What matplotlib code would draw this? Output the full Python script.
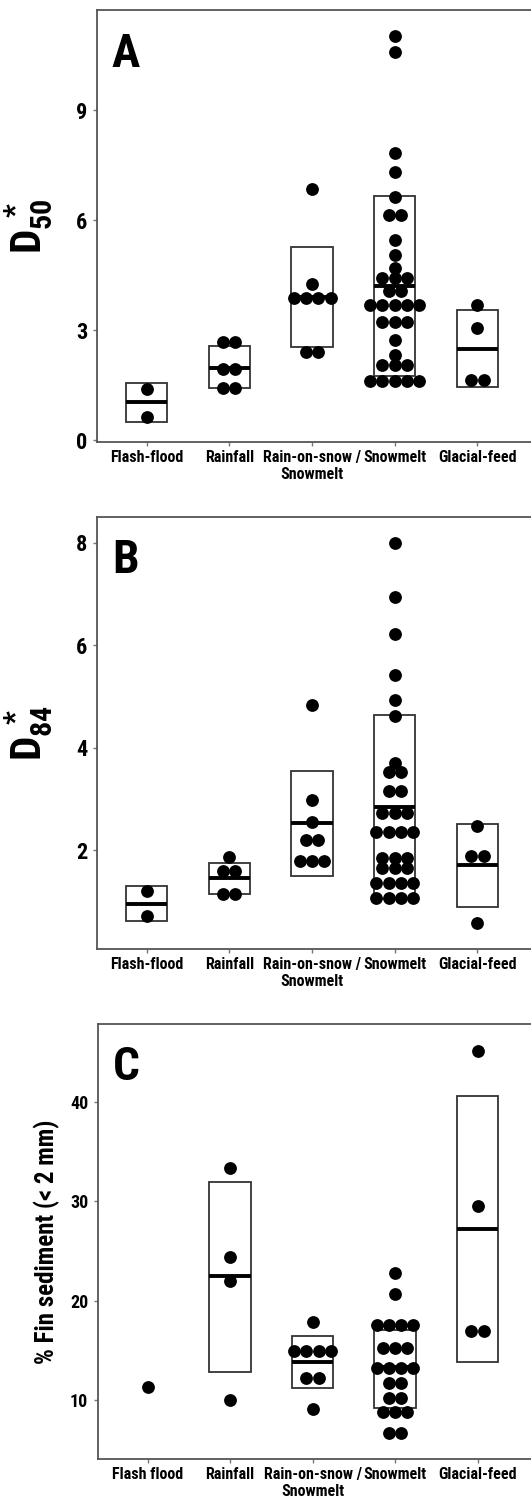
import numpy as np
import matplotlib
matplotlib.use("Agg")
import matplotlib.pyplot as plt
from matplotlib import font_manager
from matplotlib.patches import Rectangle

# narrow bold face close to the Arial Narrow of the original figure
installed = {f.name for f in font_manager.fontManager.ttflist}
base_font = 'DejaVu Sans'
for name in ['Roboto Condensed', 'PT Sans Narrow', 'Encode Sans Condensed', 'Barlow Semi Condensed']:
    if name in installed:
        base_font = name
        break

plt.rcParams['font.family'] = [base_font, 'DejaVu Sans']
plt.rcParams['font.weight'] = 'bold'
plt.rcParams['mathtext.fontset'] = 'custom'
plt.rcParams['mathtext.rm'] = base_font + ':bold'
plt.rcParams['mathtext.it'] = base_font + ':bold'
plt.rcParams['mathtext.bf'] = base_font + ':bold'

# categories / tick labels
labels_ab = ["Flash-flood", "Rainfall", "Rain-on-snow /\nSnowmelt", "Snowmelt", "Glacial-feed"]
labels_c = ["Flash flood", "Rainfall", "Rain-on-snow /\nSnowmelt", "Snowmelt", "Glacial-feed"]

# panel A : D50*
d50_flash = [1.40, 0.645]
d50_rain = [2.68, 2.68, 1.93, 1.93, 1.41, 1.41]
d50_ros = [6.85, 4.26, 3.88, 3.88, 3.88, 3.88, 2.41, 2.41]
d50_snow = [11.03, 10.59, 7.82, 7.31, 6.64, 6.13, 6.13, 5.45, 5.06, 4.69,
            4.42, 4.42, 4.42, 4.08, 4.08, 3.69, 3.69, 3.69, 3.69, 3.69,
            3.21, 3.21, 3.21, 2.72, 2.32, 2.05, 2.05, 2.05,
            1.60, 1.60, 1.60, 1.60, 1.60]
d50_glacial = [3.69, 3.05, 1.63, 1.63]
d50_lo = [0.50, 1.42, 2.54, 1.75, 1.45]
d50_mid = [1.03, 1.96, 3.90, 4.20, 2.48]
d50_hi = [1.56, 2.58, 5.27, 6.67, 3.55]

# panel B : D84*
d84_flash = [1.19, 0.71]
d84_rain = [1.86, 1.59, 1.59, 1.15, 1.15]
d84_ros = [4.84, 2.98, 2.55, 2.20, 2.20, 1.79, 1.79, 1.79]
d84_snow = [8.00, 6.94, 6.21, 5.42, 4.93, 4.62, 3.69, 3.53, 3.53, 3.16, 3.16,
            2.72, 2.72, 2.72, 2.36, 2.36, 2.36, 2.36, 1.84, 1.84, 1.84,
            1.64, 1.64, 1.64, 1.35, 1.35, 1.35, 1.35, 1.06, 1.06, 1.06, 1.06]
d84_glacial = [2.47, 1.88, 1.88, 0.58]
d84_lo = [0.61, 1.15, 1.50, 1.05, 0.89]
d84_mid = [0.95, 1.46, 2.53, 2.84, 1.70]
d84_hi = [1.30, 1.75, 3.54, 4.63, 2.51]

# panel C : % fine sediment
fin_flash = [11.3]
fin_rain = [33.4, 24.4, 22.0, 10.0]
fin_ros = [17.9, 14.9, 14.9, 14.9, 14.9, 12.25, 12.25, 9.1]
fin_snow = [22.8, 20.7, 17.55, 17.55, 17.55, 17.55, 15.27, 15.27, 15.27,
            13.26, 13.26, 13.26, 13.26, 11.68, 11.68, 10.17, 10.17,
            8.83, 8.83, 8.83, 6.64, 6.64]
fin_glacial = [45.2, 29.5, 17.0, 17.0]
fin_lo = [np.nan, 12.85, 11.25, 9.16, 13.8]
fin_mid = [np.nan, 22.45, 13.86, 13.3, 27.2]
fin_hi = [np.nan, 32.0, 16.4, 17.05, 40.6]

W, H = 531, 1502
fig = plt.figure(figsize=(W / 100, H / 100), dpi=100)

frame_col = '#555555'
dot_step = 0.149   # horizontal spacing of stacked dots (data units)


def panel(rect, groups, lo, mid, hi, ylim, yticks, labels, letter, ylabel,
          ytick_size, ylabel_size, ylabel_x):
    ax = fig.add_axes(rect)
    ax.set_xlim(0.4, 5.696)
    ax.set_ylim(*ylim)

    for i, vals in enumerate(groups):
        x0 = i + 1
        if not np.isnan(lo[i]):
            ax.add_patch(Rectangle((x0 - 0.25, lo[i]), 0.5, hi[i] - lo[i],
                                   fill=False, edgecolor='#333333', lw=1.3, zorder=2))
            ax.plot([x0 - 0.25, x0 + 0.25], [mid[i], mid[i]], color='black',
                    lw=2.8, solid_capstyle='butt', zorder=2)
        uv, counts = np.unique(vals, return_counts=True)
        for v, n in zip(uv, counts):
            xs = x0 + (np.arange(n) - (n - 1) / 2) * dot_step
            ax.scatter(xs, [v] * n, s=85, color='black', linewidths=0, zorder=3)

    ax.set_xticks(range(1, 6))
    ax.set_xticklabels(labels, fontsize=11.5, fontweight='bold', linespacing=1.15)
    ax.set_yticks(yticks)
    ax.set_yticklabels([str(t) for t in yticks], fontsize=ytick_size, fontweight='bold')
    ax.tick_params(direction='out', length=3, width=1, color='#777777', pad=3)
    ax.tick_params(axis='y', pad=4)
    for sp in ax.spines.values():
        sp.set_color(frame_col)
        sp.set_linewidth(1.3)

    ax.text(0.034, 0.95, letter, transform=ax.transAxes, fontsize=34,
            fontweight='bold', ha='left', va='top')
    ax.set_ylabel(ylabel, fontsize=ylabel_size, fontweight='bold')
    ax.yaxis.set_label_coords(ylabel_x, 0.5)
    return ax


panel([97 / W, 1 - 442 / H, 438 / W, 432 / H],
      [d50_flash, d50_rain, d50_ros, d50_snow, d50_glacial],
      d50_lo, d50_mid, d50_hi, (-0.05, 11.73), [0, 3, 6, 9], labels_ab,
      'A', r'$\mathrm{D}_{50}^{\ *}$', 16, 31, -0.096)

panel([97 / W, 1 - 949 / H, 438 / W, 432.3 / H],
      [d84_flash, d84_rain, d84_ros, d84_snow, d84_glacial],
      d84_lo, d84_mid, d84_hi, (0.067, 8.51), [2, 4, 6, 8], labels_ab,
      'B', r'$\mathrm{D}_{84}^{\ *}$', 16, 31, -0.096)

panel([98 / W, 1 - 1459 / H, 437 / W, 435.3 / H],
      [fin_flash, fin_rain, fin_ros, fin_snow, fin_glacial],
      fin_lo, fin_mid, fin_hi, (4.06, 47.9), [10, 20, 30, 40], labels_c,
      'C', '% Fin sediment (< 2 mm)', 13, 18, -0.087)

fig.savefig('out.png', dpi=100)
